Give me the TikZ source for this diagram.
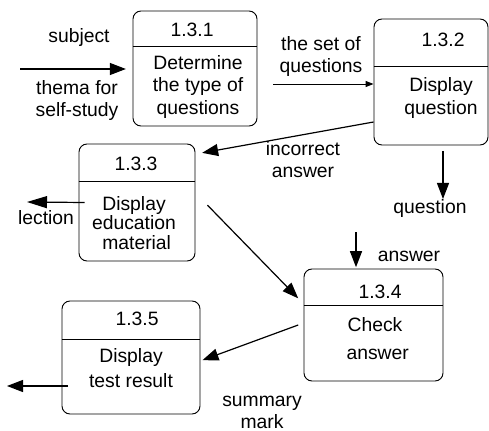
\documentclass[tikz,border=0pt]{standalone}
\usepackage{fontspec}
\setmainfont{Liberation Sans}
\usetikzlibrary{arrows.meta}

\begin{document}
\begin{tikzpicture}[x=0.75pt, y=-0.75pt]
\tikzset{proc/.style = {draw, rounded corners=6pt, line width=.7pt, inner sep=0pt}}
\tikzset{txt/.style = {align=center, inner sep=1pt, font=\fontsize{14.5}{17}\selectfont}}
\tikzset{flow/.style = {-{Triangle[length=12pt,width=9pt]}, line width=.9pt}}
\tikzset{thin flow/.style = {-{Triangle[length=6pt,width=4.5pt]}, line width=.7pt}}

\useasboundingbox (0,0) rectangle (489,431);

% process boxes
\node[proc, minimum width=93pt,    minimum height=86.25pt] (p131) at (195,68.5) {};
\node[proc, minimum width=85.5pt,  minimum height=94.5pt]  (p132) at (431,82) {};
\node[proc, minimum width=87pt,    minimum height=87.75pt] (p133) at (137,202.5) {};
\node[proc, minimum width=104.25pt,minimum height=84pt]    (p134) at (373.5,325) {};
\node[proc, minimum width=103.5pt, minimum height=84.75pt] (p135) at (131,357.5) {};

\foreach \b/\y in {p131/46, p132/66, p133/181, p134/305, p135/339}
  {\draw[line width=.7pt] (\b.west |- 0,\y) -- (\b.east |- 0,\y);}

% numbers
\node[txt] (n131) at (192,29.5) {1.3.1};
\node[txt] (n132) at (443,40) {1.3.2};
\node[txt] (n133) at (136,164) {1.3.3};
\node[txt] (n134) at (380,292) {1.3.4};
\node[txt] (n135) at (137,319) {1.3.5};

% names
\node[txt] (t131) at (198,87) {Determine\\the type of\\questions};
\node[txt] (t132) at (441,98) {Display\\question};
\node[txt, font=\fontsize{14.5}{14.5}\selectfont] (t133) at (134,223) {Display\\education\\\hspace{4pt}material};
\node[txt, font=\fontsize{14.5}{21}\selectfont] (t134) at (375,339) {Check\\ \hspace{4pt}answer};
\node[txt, font=\fontsize{14.5}{18.5}\selectfont] (t135) at (131,368) {Display\\test result};

% flow labels
\node[txt] (subj) at (79,38) {subject};
\node[txt, font=\fontsize{14.5}{16.5}\selectfont] (thema) at (77,101) {thema for\\self-study};
\node[txt, font=\fontsize{14.5}{16.5}\selectfont] (qset) at (321,57) {the set of\\questions};
\node[txt, font=\fontsize{14.5}{16.5}\selectfont] (wrong) at (303,160) {incorrect\\answer};
\node[txt] (quest) at (430,209) {question};
\node[txt] (lect) at (46,218) {lection};
\node[txt] (ans) at (409,256) {answer};
\node[txt, font=\fontsize{14.5}{16.5}\selectfont] (mark) at (262,412) {summary\\mark};

% free ends
\coordinate (in131) at (20,69);
\coordinate (qout) at (443,199);
\coordinate (lout) at (27,202);
\coordinate (ain) at (356,232);
\coordinate (rout) at (7,386);
\coordinate (rstart) at (68,386);

% flows
\draw[flow, shorten >=5pt] (in131) -- (p131.west |- in131);
\draw[thin flow, shorten <=12pt] (p131.east |- 0,84) -- (p132.west |- 0,84);
\draw[flow] ([yshift=-30pt]p132.west) -- ([xshift=5pt,yshift=-7pt]p133.north east);
\draw[flow] ([xshift=9pt,yshift=-4pt]p132.south) -- (qout);
\draw[flow, -{Triangle[length=15pt,width=9pt]}] ([xshift=4.5pt]p133.west) -- (lout);
\draw[flow] ([xshift=9pt,yshift=-2pt]p133.east) -- ([xshift=-4pt,yshift=20pt]p134.west);
\draw[flow, shorten >=1pt] (ain) -- (ain |- p134.north);
\draw[flow] ([xshift=-4pt]p134.west) -- ([xshift=1.5pt,yshift=-2pt]p135.east);
\draw[flow] (rstart) -- (rout);

\end{tikzpicture}
\end{document}
